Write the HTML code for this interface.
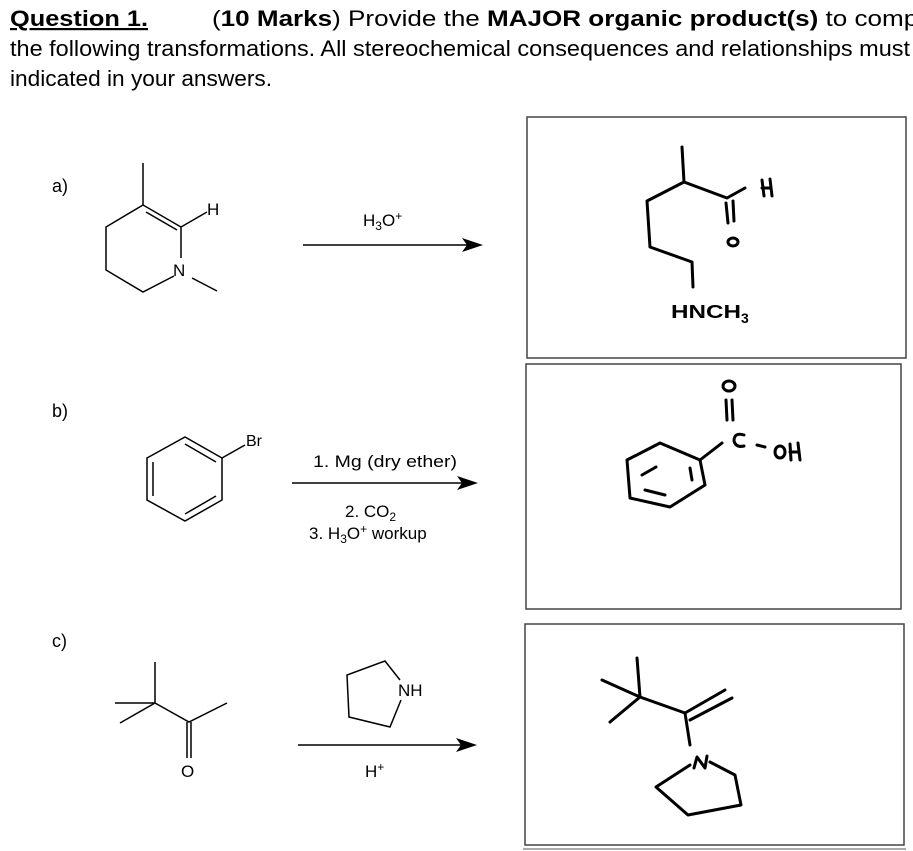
<!DOCTYPE html>
<html><head><meta charset="utf-8"><style>
html,body{margin:0;padding:0;background:#fff;}
body{width:913px;height:851px;overflow:hidden;position:relative;}
svg{position:absolute;left:0;top:0;}
text{font-family:"Liberation Sans",Arial,sans-serif;fill:#000;}
</style></head><body>
<svg width="913" height="851" viewBox="0 0 913 851">
<g font-size="22">
<text x="10" y="26" font-weight="bold" text-decoration="underline" textLength="138" lengthAdjust="spacingAndGlyphs">Question 1.</text>
<text x="212" y="26" textLength="712" lengthAdjust="spacingAndGlyphs">(<tspan font-weight="bold">10 Marks</tspan>)  Provide the <tspan font-weight="bold">MAJOR organic product(s)</tspan> to compl</text>
<text x="10" y="56" textLength="900" lengthAdjust="spacingAndGlyphs">the following transformations. All stereochemical consequences and relationships must</text>
<text x="10" y="86" textLength="262" lengthAdjust="spacingAndGlyphs">indicated in your answers.</text>
</g>
<g font-size="18">
<text x="52" y="192">a)</text>
<text x="52" y="417">b)</text>
<text x="52" y="647">c)</text>
</g>
<!-- a reactant -->
<g stroke="#000" stroke-width="1.5" fill="none">
<path d="M143,163 L143,205 L181,227 L181,258 M174,276 L143,292 L106,270 L106,227 L143,205"/>
<path d="M146,212 L177,230"/>
<path d="M181,227 L207,212"/>
<path d="M192,278 L217,291"/>
<path d="M303,245 L470,245"/>
<path d="M292,483 L462,483"/>
<path d="M298,745 L462,745"/>
<!-- benzene b -->
<path d="M147,458 L185,437 L222,458 L222,500 L185,521 L147,500 Z"/>
<path d="M153,462 L153,496 M185,444 L216,462 M185,514 L216,496"/>
<path d="M222,458 L245,445"/>
<!-- ketone c -->
<path d="M155,662 L155,703 L115,703 M155,703 L120,723 M155,703 L189,722 L227,703"/>
<path d="M187,722 L187,758 M191,722 L191,758"/>
<!-- pyrrolidine -->
<path d="M400,680 L385,661 L347,675 L349,717 L390,727 L401,700"/>
</g>
<polygon points="483,245 462,238 467,245 462,252" fill="#000"/>
<polygon points="478,483 457,476 462,483 457,490" fill="#000"/>
<polygon points="477,745 456,738 461,745 456,752" fill="#000"/>
<text x="207" y="215" font-size="17">H</text>
<text x="173" y="276" font-size="17">N</text>
<text x="363" y="226" font-size="17">H<tspan font-size="12" dy="4">3</tspan><tspan dy="-4">O</tspan><tspan font-size="12" dy="-6">+</tspan></text>
<text x="246" y="446" font-size="16">Br</text>
<text x="313" y="467" font-size="17" textLength="144" lengthAdjust="spacingAndGlyphs">1. Mg (dry ether)</text>
<text x="345" y="517" font-size="17">2. CO<tspan font-size="12" dy="4">2</tspan></text>
<text x="309" y="539" font-size="17">3. H<tspan font-size="12" dy="4">3</tspan><tspan dy="-4">O</tspan><tspan font-size="12" dy="-6">+</tspan><tspan dy="6"> workup</tspan></text>
<text x="181" y="777" font-size="17">O</text>
<text x="398" y="696" font-size="17">NH</text>
<text x="365" y="777" font-size="17">H<tspan font-size="12" dy="-6">+</tspan></text>
<!-- boxes -->
<g stroke="#444" stroke-width="1.5" fill="none">
<rect x="527" y="117" width="379" height="241"/>
<rect x="526" y="364" width="375" height="245"/>
<rect x="525" y="624" width="379" height="221"/>
</g>
<line x1="523" y1="849" x2="906" y2="849" stroke="#aaa" stroke-width="2"/>
<!-- handwritten products -->
<g stroke="#000" stroke-width="3" fill="none" stroke-linecap="round" stroke-linejoin="round">
<path d="M682,147 L684,182 L647,201 L650,247 L692,262 L693,287"/>
<path d="M684,182 L727,198 L745,188"/>
<path d="M726,203 L728,223 M733,201 L734,221"/>
<ellipse cx="733" cy="242" rx="5" ry="4"/>
<path d="M762,180 L764,196 M770,179 L772,196 M762,188 L771,188"/>
<!-- benzoic acid -->
<path d="M627,460 L660,443 L700,460 L705,485 L670,507 L630,498 Z"/>
<path d="M642,475 L656,467 M690,468 L692,480 M645,490 L665,495"/>
<path d="M700,460 L722,443"/>
<path d="M726,400 L727,420 M732,400 L733,420"/>
<ellipse cx="729" cy="386" rx="6" ry="5"/>
<path d="M744,435 Q734,432 734,441 Q736,448 744,446"/>
<path d="M757,445 L765,447"/>
<ellipse cx="780" cy="452" rx="5" ry="6"/>
<path d="M790,444 L791,460 M798,443 L800,460 M790,452 L799,452"/>
<!-- enamine -->
<path d="M637,658 L640,697 L602,680 M640,697 L610,722 M640,697 L685,713 L690,745"/>
<path d="M685,713 L725,690 M690,720 L732,698"/>
<path d="M694,768 L697,757 L705,768 L707,756"/>
<path d="M710,762 L735,775 L741,805 L688,815 L656,787 L690,765"/>
</g>
<text x="671" y="318" font-size="18" font-weight="bold" textLength="70" lengthAdjust="spacingAndGlyphs">HNCH</text>
<text x="741" y="323" font-size="14" font-weight="bold">3</text>
</svg>
</body></html>
